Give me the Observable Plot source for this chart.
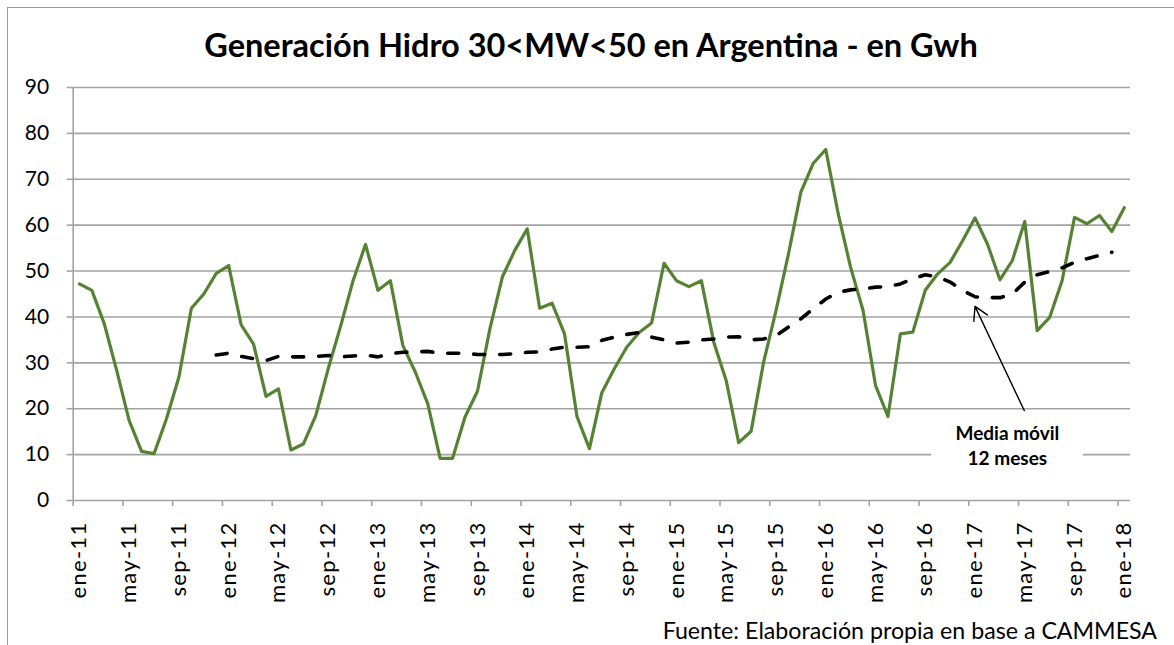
<!DOCTYPE html>
<html>
<head>
<meta charset="utf-8">
<script src="https://cdn.jsdelivr.net/npm/d3@7"></script>
<script src="https://cdn.jsdelivr.net/npm/@observablehq/plot@0.6"></script>
<style>
  html, body { margin: 0; padding: 0; background: #fff; }
  #wrap { position: relative; width: 1174px; height: 645px; overflow: hidden; font-family: Lato, "Open Sans", sans-serif; }
  #frame { position: absolute; left: 7px; top: 7px; width: 1200px; height: 700px; border-left: 1.5px solid #9a9a9a; border-top: 1.5px solid #9a9a9a; }
  #title { position: absolute; left: 0; width: 1182px; top: 25px; text-align: center; font-weight: 700; font-size: 32.5px; color: #000; white-space: nowrap; }
  #chart { position: absolute; left: 0; top: 70px; }
  #source { position: absolute; right: 17px; top: 616px; font-size: 23.2px; color: #000; white-space: nowrap; }
  #chart g[aria-label="x-axis tick label"] text { letter-spacing: 1.3px; }
</style>
</head>
<body>
<div id="wrap">
  <div id="frame"></div>
  <div id="title">Generación Hidro 30&lt;MW&lt;50 en Argentina - en Gwh</div>
  <div id="chart"></div>
  <div id="source">Fuente: Elaboración propia en base a CAMMESA</div>
</div>
<script>
// Monthly categories: ene-11 ... ene-18 (85 months)
const monthNames = ["ene","feb","mar","abr","may","jun","jul","ago","sep","oct","nov","dic"];
const years = ["11","12","13","14","15","16","17","18"];
const categories = [];
for (const y of years) for (const m of monthNames) if (categories.length < 85) categories.push(m + "-" + y);

// Generación hidro (GWh), monthly
const hydroValues = [
  47.2, 45.8, 38.5, 28.3, 17.4, 10.7, 10.2, 17.8, 26.9, 41.9, 45.0, 49.5,
  51.2, 38.3, 34.1, 22.7, 24.3, 11.0, 12.3, 18.5, 28.7, 38.0, 47.9, 55.8,
  45.8, 47.9, 33.8, 28.0, 21.1, 9.2, 9.2, 18.2, 23.8, 37.4, 48.7, 54.5,
  59.2, 41.9, 43.0, 36.3, 18.3, 11.3, 23.5, 28.7, 33.4, 36.6, 38.7, 51.7,
  47.9, 46.6, 47.9, 34.5, 26.1, 12.6, 15.1, 30.1, 41.4, 53.7, 67.2, 73.5,
  76.5, 62.5, 50.8, 41.4, 25.1, 18.3, 36.3, 36.7, 45.8, 49.4, 51.9, 56.6,
  61.6, 55.9, 48.1, 52.3, 60.8, 37.0, 39.9, 47.9, 61.7, 60.3, 62.1, 58.6,
  63.8
];

// Media móvil 12 meses (starts at dic-11, index 11)
const maStart = 11;
const maValues = [
  31.7, 32.1, 31.4, 30.9, 30.5, 31.4, 31.3, 31.3, 31.4, 31.6,
  31.3, 31.5, 31.7, 31.3, 32.0, 32.3, 32.4, 32.5, 32.1, 32.1,
  32.1, 31.8, 31.8, 31.8, 32.0, 32.3, 32.4, 33.0, 33.4, 33.4,
  33.5, 34.9, 35.6, 36.2, 36.6, 35.6, 35.0, 34.3, 34.5, 35.0,
  35.2, 35.6, 35.7, 35.0, 35.2, 35.9, 37.8, 39.6, 41.8, 43.9,
  45.4, 45.9, 46.1, 46.5, 46.6, 47.2, 48.3, 49.2, 48.7, 47.6,
  45.8, 44.4, 44.2, 44.2, 45.0, 47.6, 49.2, 49.9, 50.7, 51.9,
  52.7, 53.4, 54.1
];

const tickLabels = ["ene-11","may-11","sep-11","ene-12","may-12","sep-12","ene-13","may-13","sep-13",
  "ene-14","may-14","sep-14","ene-15","may-15","sep-15","ene-16","may-16","sep-16","ene-17","may-17","sep-17","ene-18"];
const yTicks = [0, 10, 20, 30, 40, 50, 60, 70, 80, 90];

const annotText = ["Media móvil\n12 meses"];

const hydro = hydroValues.map((v, i) => ({i, v, month: categories[i]}));
const ma = maValues.map((v, k) => ({i: k + maStart, v, month: categories[k + maStart]}));
const labelIdx = tickLabels.map(l => categories.indexOf(l));
const boundaryIdx = labelIdx.map(i => i - 0.5);

// annotation anchored in data space (index, value)
const annot = [{i: 74.6, v: 12.2, text: annotText[0]}];
const annotBox = [{i1: 68.5, i2: 80.7, v1: 6.5, v2: 17.4}];
const arrowData = [{i1: 75.96, v1: 19.6, i2: 72.0, v2: 42.3}];

const grid = "#a3a3a3";
const chart = Plot.plot({
  width: 1174,
  height: 575,
  marginTop: 17,
  marginLeft: 72.7,
  marginRight: 44,
  marginBottom: 145,
  x: {domain: [-0.5, categories.length - 0.5]},
  y: {domain: [0, 90]},
  style: {fontFamily: "Lato, 'Open Sans', sans-serif", background: "transparent", color: "#000"},
  marks: [
    Plot.gridY(yTicks, {stroke: grid, strokeOpacity: 1, strokeWidth: 1.6}),
    Plot.ruleX([-0.5], {stroke: grid, strokeWidth: 1.6}),
    Plot.axisY(yTicks, {tickSize: 6, tickPadding: 18, fontSize: 21, stroke: grid, fill: "#000", label: null, strokeWidth: 1.6}),
    Plot.axisX(boundaryIdx, {tickSize: 6, tickFormat: () => "", stroke: grid, strokeWidth: 1.6, label: null}),
    Plot.axisX(labelIdx, {tickSize: 0, tickPadding: 21, tickRotate: -90, fontSize: 22,
      tickFormat: i => categories[i], fill: "#000", label: null}),
    Plot.rect(annotBox, {x1: "i1", x2: "i2", y1: "v1", y2: "v2", fill: "white"}),
    Plot.line(hydro, {x: "i", y: "v", stroke: "#568234", strokeWidth: 3.2, strokeLinejoin: "round"}),
    Plot.line(ma, {x: "i", y: "v", stroke: "#000", strokeWidth: 3.6, strokeDasharray: "11,15", strokeLinecap: "round"}),
    Plot.arrow(arrowData, {x1: "i1", y1: "v1", x2: "i2", y2: "v2", stroke: "#000", strokeWidth: 1.4, headLength: 16}),
    Plot.text(annot, {x: "i", y: "v", text: "text", fontSize: 19, fontWeight: "bold", lineHeight: 1.3, fill: "#000"})
  ]
});
document.getElementById("chart").appendChild(chart);
</script>
</body>
</html>
